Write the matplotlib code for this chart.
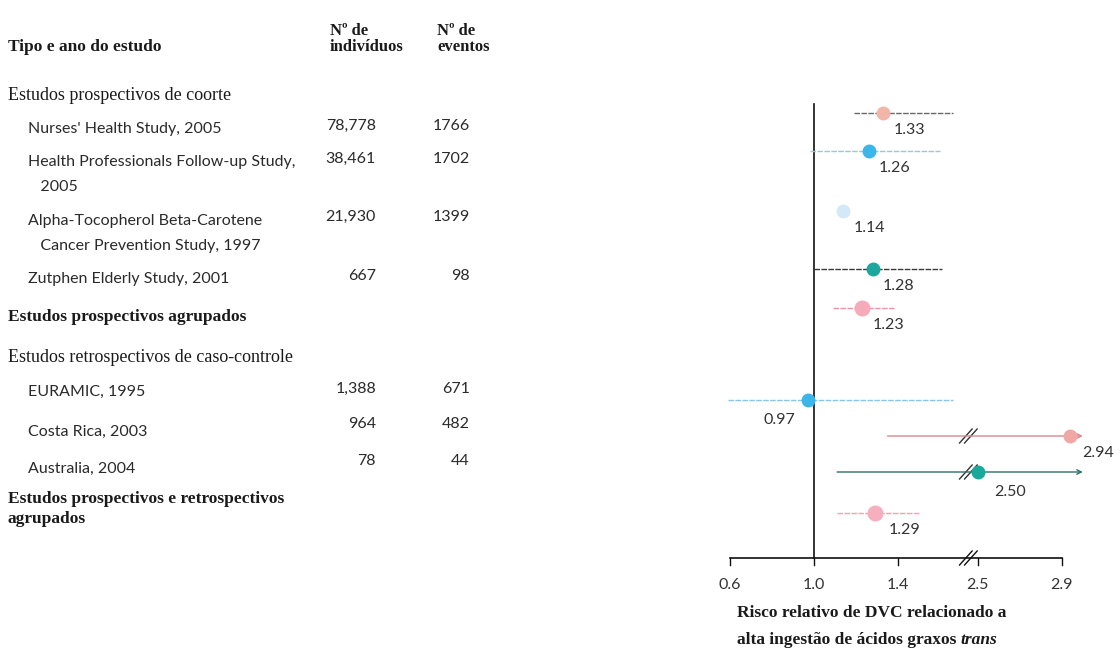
import numpy as np
import matplotlib.pyplot as plt

# Forest plot: trans fatty acid intake and coronary heart disease (DVC)
SERIF = "Liberation Serif"
SANS = "Lato"

# --- data ---
study_names = [
    "Nurses' Health Study, 2005",
    "Health Professionals Follow-up Study,\n   2005",
    "Alpha-Tocopherol Beta-Carotene\n   Cancer Prevention Study, 1997",
    "Zutphen Elderly Study, 2001",
    "Estudos prospectivos agrupados",
    "EURAMIC, 1995",
    "Costa Rica, 2003",
    "Australia, 2004",
    "Estudos prospectivos e retrospectivos\nagrupados",
]
n_individuos = ["78,778", "38,461", "21,930", "667", "", "1,388", "964", "78", ""]
n_eventos = ["1766", "1702", "1399", "98", "", "671", "482", "44", ""]
pooled = [False, False, False, False, True, False, False, False, True]

rr = [1.33, 1.26, 1.14, 1.28, 1.23, 0.97, 2.94, 2.50, 1.29]
ci_low = [1.19, 0.98, np.nan, 1.00, 1.09, 0.59, 1.35, 1.11, 1.11]
ci_high = [1.66, 1.60, np.nan, 1.61, 1.38, 1.66, 3.00, 3.00, 1.50]

group_titles = ["Estudos prospectivos de coorte", "Estudos retrospectivos de caso-controle"]
tick_values = [0.6, 1.0, 1.4, 2.5, 2.9]

marker_colors = ["#f2b6a8", "#3cb5ea", "#d3e9f8", "#1ba79c", "#f6abba",
                 "#3cb5ea", "#f0a8a6", "#18a99a", "#f7afbf"]
line_colors = ["#6a6a6a", "#a3c4d6", "#d3e9f8", "#3a3a3a", "#ec93a8",
               "#86c6e6", "#d98890", "#2f6f69", "#f3a0b4"]

# --- layout (pixel rows, figure is 1120 x 651) ---
row_y = [113, 151, 211, 269, 308, 400, 436, 472, 513]
name_y = [129, 162, 221, 279, 317, 392, 432, 469, 499]
count_y = [126, 159, 217, 276, None, 389, 424, 461, None]
group_y = [96, 357]

# broken x axis: values past the cut are shifted left
CUT = 2.0
SHIFT = 0.72


def xmap(v):
    v = np.asarray(v, dtype=float)
    return np.where(v > CUT, v - SHIFT, v)


fig = plt.figure(figsize=(11.2, 6.51), dpi=100)
fig.patch.set_facecolor("white")

tab = fig.add_axes([0, 0, 1, 1])
tab.set_xlim(0, 1120)
tab.set_ylim(651, 0)
tab.axis("off")

# table header
tab.text(8, 47, "Tipo e ano do estudo", family=SERIF, weight="bold", fontsize=12.5,
         va="center", color="#1a1a1a")
tab.text(330, 39, "Nº de\nindivíduos", family=SERIF, weight="bold", fontsize=12,
         va="center", linespacing=0.95, color="#1a1a1a")
tab.text(437, 39, "Nº de\neventos", family=SERIF, weight="bold", fontsize=12,
         va="center", linespacing=0.95, color="#1a1a1a")

for title, y in zip(group_titles, group_y):
    tab.text(8, y, title, family=SERIF, fontsize=13, va="center", color="#1a1a1a")

for i, name in enumerate(study_names):
    lines = name.split("\n")
    if pooled[i]:
        for k, line in enumerate(lines):
            tab.text(8, name_y[i] + 20 * k, line, family=SERIF, weight="bold",
                     fontsize=12.5, va="center", color="#1a1a1a")
    else:
        for k, line in enumerate(lines):
            tab.text(28, name_y[i] + 25 * k, line, family=SANS, fontsize=11.5,
                     va="center", color="#2a2a2a")
    if count_y[i] is not None:
        tab.text(376, count_y[i], n_individuos[i], family=SANS, fontsize=11.5,
                 ha="right", va="center", color="#2a2a2a")
        tab.text(470, count_y[i], n_eventos[i], family=SANS, fontsize=11.5,
                 ha="right", va="center", color="#2a2a2a")

# forest panel
ax = fig.add_axes([700 / 1120, 0, 420 / 1120, 1])
ax.set_xlim(0.6 + (700 - 730) / 210, 0.6 + (1120 - 730) / 210)
ax.set_ylim(651, 0)
ax.axis("off")

brk = 1.735
axis_y = 558

# reference line at RR = 1
ax.plot([1.0, 1.0], [104, axis_y], color="#111111", lw=1.2)

label_offsets = [(26, -17)] * 9
label_offsets[5] = (-28, -20)
label_offsets[6] = (28, -17)
label_offsets[7] = (32, -20)
label_offsets[8] = (30, -17)

for i in range(len(rr)):
    y = row_y[i]
    lo, hi = ci_low[i], ci_high[i]
    if not np.isnan(lo):
        x0, x1 = float(xmap(lo)), float(xmap(hi))
        if hi > 2.9:
            ax.annotate("", xy=(x1, y), xytext=(x0, y),
                        arrowprops=dict(arrowstyle="->", color=line_colors[i], lw=1.0,
                                        shrinkA=0, shrinkB=0, mutation_scale=8))
        else:
            ax.plot([x0, x1], [y, y], color=line_colors[i], lw=1.0, ls=(0, (4, 1)))
        if hi > CUT:
            for dx in (-0.012, 0.012):
                ax.plot([brk + dx - 0.03, brk + dx + 0.03], [y + 7, y - 7],
                        color="#333333", lw=1.0)
    ms = 10.5 if pooled[i] else 9
    ax.plot(float(xmap(rr[i])), y, "o", ms=ms, color=marker_colors[i],
            mec=marker_colors[i], zorder=3)
    ax.annotate(f"{rr[i]:.2f}", xy=(float(xmap(rr[i])), y),
                xytext=label_offsets[i], textcoords="offset pixels",
                ha="center", va="center", family=SANS, fontsize=11.5, color="#333333")

# x axis with break
tx = xmap(tick_values)
ax.plot([tx[0], tx[-1]], [axis_y, axis_y], color="#111111", lw=1.2)
for t, v in zip(tx, tick_values):
    ax.plot([t, t], [axis_y, axis_y + 7], color="#111111", lw=1.0)
    ax.text(t, 585, f"{v:.1f}", ha="center", va="center", family=SANS,
            fontsize=11.5, color="#333333")
for dx in (-0.012, 0.012):
    ax.plot([brk + dx - 0.03, brk + dx + 0.03], [axis_y + 7, axis_y - 7],
            color="#111111", lw=1.0)

t1 = tab.text(737, 613, "Risco relativo de DVC relacionado a", family=SERIF,
              weight="bold", fontsize=12.5, va="center", color="#1a1a1a")
t2 = tab.text(737, 640, "alta ingestão de ácidos graxos ", family=SERIF,
              weight="bold", fontsize=12.5, va="center", color="#1a1a1a")
tab.annotate("trans", xy=(1, 0.5), xycoords=t2, ha="left", va="center",
             family=SERIF, weight="bold", style="italic", fontsize=12.5,
             color="#1a1a1a")

fig.savefig("out.png", dpi=100, facecolor="white")
